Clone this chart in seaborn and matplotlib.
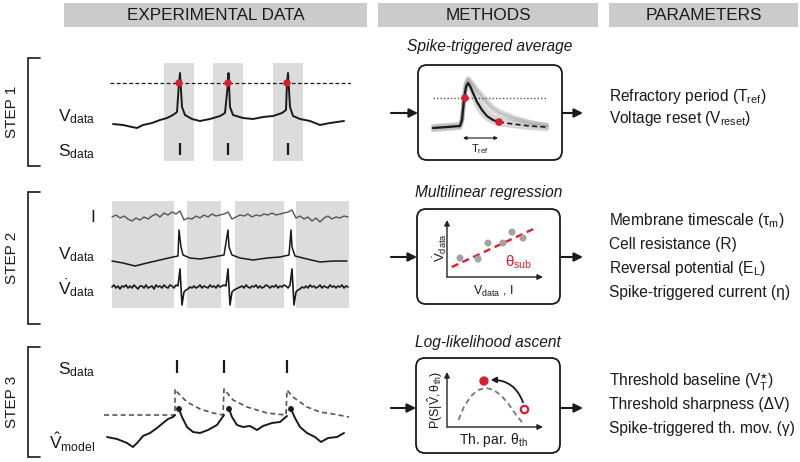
import numpy as np
import pandas as pd
import matplotlib
matplotlib.use("Agg")
import matplotlib.pyplot as plt
import seaborn as sns
from matplotlib.patches import FancyBboxPatch, Rectangle

# ---------------- data ----------------
headers = ["EXPERIMENTAL DATA", "METHODS", "PARAMETERS"]
steps = ["STEP 1", "STEP 2", "STEP 3"]
methods = ["Spike-triggered average", "Multilinear regression", "Log-likelihood ascent"]
params1 = ["Refractory period (T$_\\mathregular{ref}$)", "Voltage reset (V$_\\mathregular{reset}$)"]
params2 = ["Membrane timescale (τ$_\\mathregular{m}$)", "Cell resistance (R)",
           "Reversal potential (E$_\\mathregular{L}$)", "Spike-triggered current (η)"]
params3 = ["Threshold baseline (V$_\\mathregular{T}^{\\star}$)", "Threshold sharpness (ΔV)",
           "Spike-triggered th. mov. (γ)"]

# step 1: voltage trace (ms, mV)
s1_t = [3, 13, 22, 27, 33, 42, 50, 57, 63, 67, 69, 70, 72, 75, 82, 90, 100, 110, 115, 118,
        118.5, 120, 123, 133, 143, 153, 163, 172, 176, 177, 178, 180, 183, 190, 200, 210, 220, 227, 234]
s1_v = [-70.5, -71, -72, -72.5, -71, -70, -68.5, -67.5, -66, -64.5, -50, -45, -62, -66, -68, -69, -68, -66.5, -65, -50,
        -45, -62, -66, -67.5, -68, -67, -66.5, -65, -63.5, -50, -45, -62, -66.5, -68, -69, -71, -70, -69.5, -69]
s1_threshold = -50
s1_cross_t = [69, 118, 177]
s1_spike_t = [69.5, 118, 177.5]
s1_win_start = [54, 103, 163]
s1_win_end = [84, 133, 193]

# step 2: current, voltage, derivative
s2_win_start = [2, 77, 125, 186]
s2_win_end = [64, 111, 174, 239]
s2_I = [0, 2, -1, 1, -2, -4, -1, -3, 0, -2,
        1, 3, 0, 4, 2, 5, 3, 6, -3, -1,
        -2, 1, -1, 2, 0, 3, 1, 2, 3, 5,
        -2, 0, 2, 1, 3, 0, 2, 1, 3, 2,
        4, 2, 3, 4, 5, 7, -1, 1, -2, 0,
        -4, -1, -5, -1, 1, -2, 0, -1, 1, 0]
s2_I_t = np.arange(2, 242, 4)
s2_vt = [2, 13, 25, 37, 50, 63, 68, 69, 71, 73, 80, 90, 103, 114, 118, 119, 122, 130, 143, 157,
         170, 179, 181, 182, 185, 197, 210, 223, 237]
s2_v = [-69.5, -70.5, -72, -70.5, -69, -67.5, -67, -54, -62.5, -66.5, -68, -68.5, -67.5, -66.5, -54, -62.5,
        -66.5, -68, -69, -68, -67.5, -66.5, -54, -62.5, -67, -68.5, -70, -69.5, -69.5]
s2_dv = ([0, 2, -1, 1, -2, 1, 0, 2, -1, 1, -1, 2, 0, -2, 1, 1, -1, 2, -1, 0, 1, -2, 2, 0, 1, -1, 2, 0, -1, 2, 1, -1, 2, 1]
         + [18, -18, -5, -3]
         + [-2, 0, -1, 1, -1, 0, 2, -1, 1, 0, -1, 2, 0, 1, -1, 2, 0, 1, 2, 1]
         + [18, -18, -5, -3]
         + [-2, -1, 0, 1, -1, 2, 0, -1, 1, 0, 2, -1, 1, -1, 0, 2, 1, -1, 1, 0, 2, -1, 1, 0, 2, 1, -1, 2]
         + [18, -18, -5, -3]
         + [-2, 0, -1, 1, -1, 2, 0, 1, -1, 0, 2, -1, 1, 0, -1, 2, 0, 1, -1, 1, 0, 2, -1, 1, 0])
s2_dv_t = np.arange(2, 240, 2)

# step 3: model threshold and voltage
s3_spike_t = [67, 114, 177]
s3_th_t = [-6, 65, 65, 67, 77, 90, 103, 113, 114, 123, 137, 157, 176, 177, 183, 197, 210, 223, 239]
s3_th_v = [-50, -50, -37, -38.5, -43.5, -47, -49, -50, -37, -42.5, -46, -49, -50, -37.5, -41, -46, -48.5, -49.5, -51]
s3_seg = [0] * 12 + [1] * 8 + [2] * 10 + [3] * 9
s3_t = [-3, 7, 17, 23, 28, 33, 40, 47, 53, 58, 63, 65,
        69, 72, 77, 83, 90, 98, 107, 114,
        119, 122, 127, 133, 140, 147, 153, 162, 170, 177,
        181, 185, 190, 197, 205, 211, 218, 227, 234]
s3_v = [-61, -62, -64, -66, -63.5, -60.5, -59, -56.5, -54, -52, -51, -50,
        -47, -51, -56, -58.5, -59, -57.5, -55, -50,
        -47, -51, -55, -56, -55.5, -57.5, -55.5, -54, -53.5, -50.5,
        -47, -51.5, -56, -59, -61, -63.5, -61.5, -61, -59]
s3_reset_t = [69, 119, 181]
s3_reset_v = [-47, -47, -47]

# method 1: spike-triggered average
sta_t = [-33, -19, -6, -4, -2, 0, 2, 4, 7, 11, 16, 21, 27, 33, 47, 64, 81]
sta_mean = [-70, -69.5, -69, -66, -56, -49.5, -47.5, -49, -52.5, -57, -61, -64, -66, -67, -68, -69, -69.5]
sta_g1 = [-70.5, -70, -69.5, -66.5, -55, -48, -46, -47, -49, -52, -55, -58, -61, -63, -65.5, -67.5, -68.5]
sta_g2 = [-69, -68.5, -68, -65, -54, -47.5, -45, -46, -48, -50.5, -53.5, -56.5, -59.5, -61.5, -64.5, -67, -68.5]
sta_g3 = [-71, -70.5, -70, -67, -57, -50.5, -48.5, -50, -54, -59, -63, -65.5, -67, -68, -69, -70, -70.5]
sta_g4 = [-69.5, -69, -68.5, -65.5, -55.5, -48.5, -46.5, -48, -51, -55, -58.5, -61.5, -64, -65.5, -67, -68.5, -69.5]
sta_thr = -55
sta_cross = (-1, -55)
sta_reset = (33, -67)
tref = (-3, 32)

# method 2: regression points
reg_x = [0.135, 0.323, 0.427, 0.583, 0.677, 0.792]
reg_y = [0.333, 0.316, 0.596, 0.596, 0.789, 0.684]
fit_x = [0.05, 0.90]
fit_y = [0.175, 0.842]

# method 3: likelihood
lik_x = [0.12, 0.18, 0.25, 0.32, 0.40, 0.48, 0.56, 0.64, 0.72, 0.79]
lik_y = [0.13, 0.38, 0.56, 0.67, 0.71, 0.68, 0.58, 0.42, 0.22, 0.07]
opt_pt = (0.385, 0.836)
init_pt = (0.802, 0.327)

# ---------------- style ----------------
sns.set_theme(style="white")
plt.rcParams["font.family"] = ["Liberation Sans", "DejaVu Sans"]
plt.rcParams["mathtext.fontset"] = "custom"
plt.rcParams["mathtext.rm"] = "Liberation Sans"
plt.rcParams["mathtext.it"] = "Liberation Sans:italic"
plt.rcParams["mathtext.bf"] = "Liberation Sans:bold"

RED = "#d8202c"
HDR = "#cbcbcb"
SPAN = "#dcdcdc"
TXT = "#1a1a1a"
W, H = 800, 462

fig = plt.figure(figsize=(8, 4.62), dpi=100)
base = fig.add_axes([0, 0, 1, 1])
base.set_xlim(0, W)
base.set_ylim(H, 0)
base.set_axis_off()


def px_axes(x0, y0, x1, y1):
    ax = fig.add_axes([x0 / W, 1 - y1 / H, (x1 - x0) / W, (y1 - y0) / H])
    ax.set_axis_off()
    ax.patch.set_alpha(0)
    return ax


def line(ax, x, y, **kw):
    sns.lineplot(x=np.asarray(x, float), y=np.asarray(y, float), ax=ax, sort=False,
                 estimator=None, legend=False, **kw)


# headers
for (x0, x1), txt in zip([(64, 367), (378, 598), (609, 798)], headers):
    base.add_patch(Rectangle((x0, 3), x1 - x0, 24, fc=HDR, ec="none"))
    base.text((x0 + x1) / 2, 15.5, txt, ha="center", va="center", fontsize=12.3, color=TXT)

# step brackets
for (y0, y1), txt in zip([(58, 166), (192, 324), (347, 457)], steps):
    base.plot([40, 28, 28, 40], [y0, y0, y1, y1], color="k", lw=1.2, solid_joinstyle="miter")
    base.text(12, (y0 + y1) / 2, txt, rotation=90, ha="center", va="center", fontsize=11, color=TXT)

# trace labels
lab_kw = dict(ha="right", va="center", fontsize=12.5, color=TXT)
base.text(95, 117, "V$_\\mathregular{data}$", **lab_kw)
base.text(95, 152, "S$_\\mathregular{data}$", **lab_kw)
base.text(95, 217, "I", **lab_kw)
base.text(95, 255, "V$_\\mathregular{data}$", **lab_kw)
base.text(95, 288, "$\\dot{\\mathrm{V}}_{\\mathrm{data}}$", **lab_kw)
base.text(95, 370, "S$_\\mathregular{data}$", **lab_kw)
base.text(95, 442, "$\\hat{\\mathrm{V}}_{\\mathrm{model}}$", **lab_kw)

# ---- step 1 trace ----
ax1 = px_axes(110, 63, 351, 161)
for a, b in zip(s1_win_start, s1_win_end):
    ax1.axvspan(a, b, color=SPAN, lw=0, zorder=0)
ax1.axhline(s1_threshold, color="k", lw=0.9, ls=(0, (3, 2)), zorder=1)
line(ax1, s1_t, s1_v, color="k", lw=1.4)
sns.scatterplot(x=s1_cross_t, y=[s1_threshold] * 3, ax=ax1, color=RED, s=28, edgecolor="none",
                zorder=5, legend=False)
ax1.vlines(s1_spike_t, -86, -80, color="k", lw=1.6)
ax1.set_xlim(0, 241)
ax1.set_ylim(-89, -40)
ax1.set_axis_off()

# ---- step 2 traces ----
ax2b = px_axes(110, 201, 351, 308)
for a, b in zip(s2_win_start, s2_win_end):
    ax2b.axvspan(a, b, color=SPAN, lw=0)
ax2b.set_xlim(0, 241)
ax2b.set_ylim(0, 1)

ax2i = px_axes(110, 205, 351, 229)
line(ax2i, s2_I_t, s2_I, color="#555555", lw=1.0)
ax2i.set_xlim(0, 241)
ax2i.set_ylim(-12, 12)
ax2i.set_axis_off()

ax2v = px_axes(110, 225, 351, 270)
line(ax2v, s2_vt, s2_v, color="k", lw=1.1)
ax2v.set_xlim(0, 241)
ax2v.set_ylim(-74, -51.5)
ax2v.set_axis_off()

ax2d = px_axes(110, 265, 351, 309)
line(ax2d, s2_dv_t, s2_dv, color="k", lw=1.2)
ax2d.set_xlim(0, 241)
ax2d.set_ylim(-22, 22)
ax2d.set_axis_off()

# ---- step 3 traces ----
ax3 = px_axes(100, 355, 351, 455)
line(ax3, s3_th_t, s3_th_v, color="#555555", lw=1.2, linestyle=(0, (3, 2)))
df3 = pd.DataFrame({"t": s3_t, "v": s3_v, "seg": s3_seg})
sns.lineplot(data=df3, x="t", y="v", units="seg", estimator=None, color="k", lw=1.4, ax=ax3, legend=False)
sns.scatterplot(x=s3_reset_t, y=s3_reset_v, ax=ax3, color="k", s=18, edgecolor="none", zorder=5, legend=False)
ax3.vlines(s3_spike_t, -29, -22.5, color="k", lw=1.6)
ax3.set_xlim(-10, 241)
ax3.set_ylim(-70, -20)
ax3.set_axis_off()

# ---- method boxes ----
box_geo = [(418, 65, 144, 95), (417, 209, 143, 95), (416, 358, 144, 95)]
title_y = [47, 193, 342]
arrow_y = [113, 257, 408]
for (x, y, w, h), t, ty, ay in zip(box_geo, methods, title_y, arrow_y):
    base.add_patch(FancyBboxPatch((x, y), w, h, boxstyle="round,pad=0,rounding_size=9",
                                  fc="white", ec="k", lw=1.3))
    base.text(x + w / 2, ty, t, ha="center", va="center", fontsize=11.2, style="italic", color=TXT)
    ak = dict(arrowstyle="-|>", color="k", lw=1.5, mutation_scale=13, shrinkA=0, shrinkB=0)
    base.annotate("", xy=(x, ay), xytext=(391, ay), arrowprops=ak)
    base.annotate("", xy=(583, ay), xytext=(x + w, ay), arrowprops=ak)

# method 1 inset
am1 = px_axes(430, 75, 552, 155)
for g in [sta_g1, sta_g2, sta_g3, sta_g4]:
    line(am1, sta_t, g, color="#9a9a9a", lw=3, alpha=0.4)
am1.hlines(sta_thr, -33, 81, color="#555555", lw=1.0, linestyles=(0, (1, 1.5)))
line(am1, sta_t[:14], sta_mean[:14], color="k", lw=1.6)
line(am1, sta_t[13:], sta_mean[13:], color="k", lw=1.2, linestyle=(0, (3, 2)))
sns.scatterplot(x=[sta_cross[0], sta_reset[0]], y=[sta_cross[1], sta_reset[1]], ax=am1,
                color=RED, s=30, edgecolor="none", zorder=6, legend=False)
am1.annotate("", xy=(tref[1], -75), xytext=(tref[0], -75),
             arrowprops=dict(arrowstyle="<|-|>", color="k", lw=0.8, mutation_scale=5, shrinkA=0, shrinkB=0))
am1.text(14, -80.5, "T$_\\mathregular{ref}$", ha="center", va="center", fontsize=8, color=TXT)
am1.set_xlim(-36, 86)
am1.set_ylim(-83.5, -43.5)
am1.set_axis_off()

axk = dict(arrowstyle="-|>", color="#222222", lw=1.0, mutation_scale=8, shrinkA=0, shrinkB=0)

# method 2 inset
am2 = px_axes(447, 220, 543, 277)
am2.annotate("", xy=(0, 1), xytext=(0, 0), xycoords="axes fraction", arrowprops=axk)
am2.annotate("", xy=(1, 0), xytext=(0, 0), xycoords="axes fraction", arrowprops=axk)
line(am2, fit_x, fit_y, color=RED, lw=1.7, linestyle=(0, (3, 2)))
sns.scatterplot(x=reg_x, y=reg_y, ax=am2, color="#a3a3a3", s=26, edgecolor="none", zorder=5, legend=False)
am2.text(0.60, 0.26, "θ$_\\mathregular{sub}$", ha="left", va="center", fontsize=11, color=RED)
am2.set_xlim(0, 1)
am2.set_ylim(0, 1)
am2.set_axis_off()
base.text(440, 248, "$\\dot{\\mathrm{V}}_{\\mathrm{data}}$", rotation=90, ha="center", va="center",
          fontsize=9.5, color=TXT)
base.text(493, 291, "V$_\\mathregular{data}$ , I", ha="center", va="center", fontsize=9, color=TXT)

# method 3 inset
am3 = px_axes(447, 372, 543, 427)
am3.annotate("", xy=(0, 1), xytext=(0, 0), xycoords="axes fraction", arrowprops=axk)
am3.annotate("", xy=(1, 0), xytext=(0, 0), xycoords="axes fraction", arrowprops=axk)
line(am3, lik_x, lik_y, color="#777777", lw=1.3, linestyle=(0, (3, 2)))
sns.scatterplot(x=[opt_pt[0]], y=[opt_pt[1]], ax=am3, color=RED, s=45, edgecolor="none", zorder=6, legend=False)
sns.scatterplot(x=[init_pt[0]], y=[init_pt[1]], ax=am3, color="white", s=28, edgecolor=RED,
                linewidth=1.6, zorder=6, legend=False)
am3.annotate("", xy=(opt_pt[0] + 0.07, opt_pt[1] + 0.02), xytext=(init_pt[0] - 0.01, init_pt[1] + 0.12),
             arrowprops=dict(arrowstyle="-|>", color="k", lw=1.3, mutation_scale=8,
                             connectionstyle="arc3,rad=0.35", shrinkA=0, shrinkB=0))
am3.set_xlim(0, 1)
am3.set_ylim(0, 1)
am3.set_axis_off()
base.text(435, 400, "$\\mathrm{P(S|\\hat{V},\\theta_{th})}$", rotation=90, ha="center", va="center",
          fontsize=9, color=TXT)
base.text(493, 440, "Th. par. θ$_\\mathregular{th}$", ha="center", va="center", fontsize=10, color=TXT)

# parameters
for txts, ys in [(params1, [97, 118]), (params2, [221, 244, 268, 292]), (params3, [382, 404, 428])]:
    for t, y in zip(txts, ys):
        base.text(609, y, t, ha="left", va="center", fontsize=11.2, color=TXT)

fig.savefig("out.png", dpi=100)
